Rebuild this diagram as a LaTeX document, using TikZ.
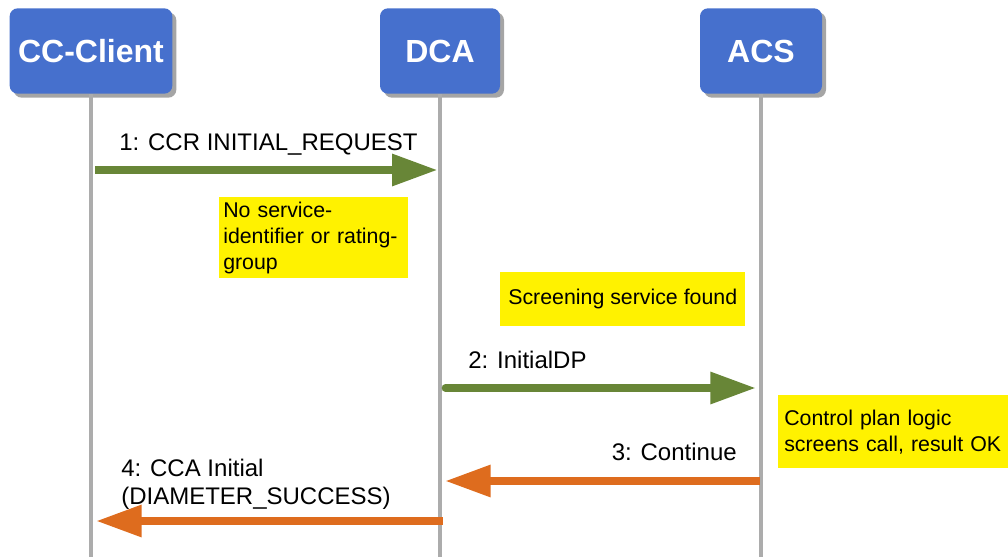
\documentclass[tikz,border=0pt]{standalone}
\usepackage{fontspec}
\setmainfont{Liberation Sans}
\usepackage{xcolor}
\usepackage{tikz}
\usetikzlibrary{arrows.meta,positioning,calc,shadows}
\definecolor{actorblue}{RGB}{70,112,205}
\definecolor{reqgreen}{RGB}{104,134,55}
\definecolor{resporange}{RGB}{222,108,30}
\definecolor{lifegray}{RGB}{172,172,172}

\begin{document}
\begin{tikzpicture}[
    x=0.75pt, y=-0.75pt,
    actor/.style={rectangle, fill=actorblue, rounded corners=6pt, minimum height=64pt, text=white, font=\fontsize{24}{28}\selectfont\bfseries, drop shadow={shadow xshift=3pt, shadow yshift=-3pt, fill=black!70, opacity=0.5}},
    lifeline/.style={lifegray, line width=3pt},
    note/.style={rectangle, fill=yellow, align=left, anchor=north west, font=\fontsize{16}{19.5}\selectfont},
    msglabel/.style={inner sep=0pt, font=\fontsize{18}{21}\selectfont},
    request/.style={-{Triangle[length=34pt,width=23pt]}, reqgreen, line width=5.5pt},
    reply/.style={-{Triangle[length=34pt,width=23pt]}, resporange, line width=5.5pt}
]
    \useasboundingbox (0,0) rectangle (1008,557);

    % Actors
    \node[actor, minimum width=122pt] (client) at (91,51) {CC-Client};
    \node[actor, minimum width=90pt] (dca) at (440,51) {DCA};
    \node[actor, minimum width=91.5pt] (acs) at (761,51) {ACS};

    % Lifelines
    \coordinate (client end) at (client.south |- 0,557);
    \coordinate (dca end) at (dca.south |- 0,557);
    \coordinate (acs end) at (acs.south |- 0,557);
    \draw[lifeline] (client.south) -- (client end);
    \draw[lifeline] (dca.south) -- (dca end);
    \draw[lifeline] (acs.south) -- (acs end);

    % Message end points
    \coordinate (m1 from) at (client.south |- 0,170);
    \coordinate (m1 to) at (dca.south |- 0,170);
    \coordinate (m2 from) at (dca.south |- 0,388);
    \coordinate (m2 to) at (acs.south |- 0,388);
    \coordinate (m3 from) at (acs.south |- 0,481);
    \coordinate (m3 to) at (dca.south |- 0,481);
    \coordinate (m4 from) at (dca.south |- 0,521);
    \coordinate (m4 to) at (client.south |- 0,521);

    % Messages
    \draw[request, shorten <=3pt, shorten >=2pt] (m1 from) -- (m1 to);
    \draw[request, line cap=round, shorten <=4pt, shorten >=4pt] (m2 from) -- (m2 to);
    \draw[reply, shorten <=1pt, shorten >=4pt] (m3 from) -- (m3 to);
    \draw[reply, shorten <=-2pt, shorten >=4pt] (m4 from) -- (m4 to);

    \node[msglabel, anchor=base west] (m1 label) at (119,150) {1: CCR INITIAL\_REQUEST};
    \node[msglabel, anchor=base west] (m2 label) at (468,368) {2: InitialDP};
    \node[msglabel, anchor=base east] (m3 label) at (737,460) {3: Continue};
    \node[msglabel, anchor=north west, align=left] (m4 label) at (121,459) {4: CCA Initial\\(DIAMETER\_SUCCESS)};

    % Notes
    \node[note, text width=135.75pt, minimum height=57pt, inner xsep=3pt] (note1) at (219,197) {No service-\\identifier or rating-\\group};
    \node[note, minimum width=183.75pt, minimum height=40.5pt] (note2) at (500,272) {Screening service found};
    \node[note, text width=163.5pt, minimum height=54.75pt, inner xsep=4.5pt] (note3) at (778,395) {Control plan logic\\screens call, result OK};
\end{tikzpicture}
\end{document}
